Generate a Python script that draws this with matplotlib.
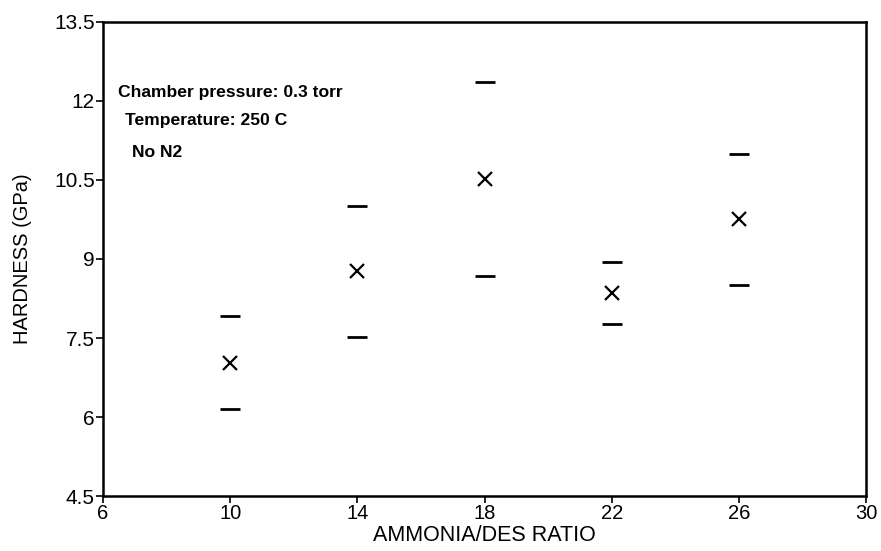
import matplotlib
matplotlib.use("Agg")
import matplotlib.pyplot as plt

plt.rcParams['font.family'] = ['Liberation Sans', 'DejaVu Sans']

# Ammonia/DES ratio and measured hardness (mean, upper and lower bounds)
ratio = [10, 14, 18, 22, 26]
hardness_mean = [7.02, 8.77, 10.52, 8.35, 9.76]
hardness_upper = [7.91, 10.0, 12.37, 8.95, 10.99]
hardness_lower = [6.15, 7.51, 8.67, 7.76, 8.51]

xticks = [6, 10, 14, 18, 22, 26, 30]
yticks = [4.5, 6, 7.5, 9, 10.5, 12, 13.5]
ytick_labels = ["4.5", "6", "7.5", "9", "10.5", "12", "13.5"]

fig = plt.figure(figsize=(8.81, 5.51), dpi=100)
ax = fig.add_axes([0.117, 0.0998, 0.866, 0.8603])

ax.plot(ratio, hardness_mean, linestyle='none', marker='x', markersize=10,
        markeredgewidth=1.6, color='black')
ax.plot(ratio, hardness_upper, linestyle='none', marker='_', markersize=15,
        markeredgewidth=2.0, color='black')
ax.plot(ratio, hardness_lower, linestyle='none', marker='_', markersize=15,
        markeredgewidth=2.0, color='black')

ax.set_xlim(6, 30)
ax.set_ylim(4.5, 13.5)
ax.set_xticks(xticks)
ax.set_yticks(yticks)
ax.set_yticklabels(ytick_labels)
ax.tick_params(direction='out', length=5, width=1.2, pad=1)
ax.tick_params(axis='x', labelsize=14.5)
ax.tick_params(axis='y', labelsize=15)
for s in ax.spines.values():
    s.set_linewidth(1.8)

ax.set_xlabel("AMMONIA/DES RATIO", fontsize=15.5)
ax.set_ylabel("HARDNESS (GPa)", fontsize=14.5)
ax.xaxis.set_label_coords(0.5, -0.062)
ax.yaxis.set_label_coords(-0.093, 0.5)

ax.text(6.47, 12.08, "Chamber pressure: 0.3 torr", fontsize=12.6, fontweight='bold',
        va='baseline', ha='left')
ax.text(6.69, 11.545, "Temperature: 250 C", fontsize=12.6, fontweight='bold',
        va='baseline', ha='left')
ax.text(6.91, 10.94, "No N2", fontsize=12.6, fontweight='bold',
        va='baseline', ha='left')

fig.savefig("out.png", dpi=100)
